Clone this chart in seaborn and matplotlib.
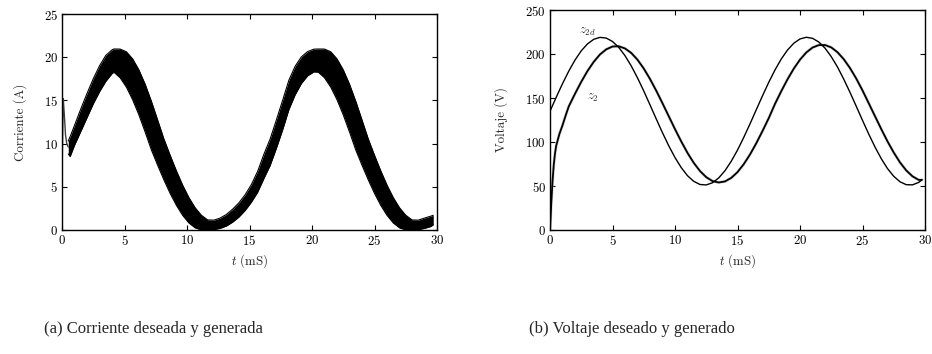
import numpy as np
import pandas as pd
import matplotlib
matplotlib.use("Agg")
import matplotlib.pyplot as plt
import seaborn as sns

# ---- (a) current: ripple band (upper / lower envelope) ----
cur_t = [0.5, 0.65, 1.0, 1.5, 2.0, 2.5, 3.0, 3.5, 4.0,
         4.15, 4.65, 5.15, 5.65, 6.15, 6.65, 7.15, 7.65, 8.15, 8.65, 9.15,
         9.65, 10.15, 10.65, 11.15, 11.65, 12.15, 12.65, 13.15, 13.65, 14.15,
         14.65, 15.15, 15.65, 16.15, 16.65, 17.15, 17.65, 18.15, 18.65, 19.15,
         19.65, 20.15,
         20.5, 21.0, 21.5, 22.0, 22.5, 23.0, 23.5, 24.0, 24.5, 25.0,
         25.5, 26.0, 26.5, 27.0, 27.5, 28.0, 28.5, 29.0, 29.5, 29.7]
cur_upper = [10.3, 10.8, 12.1, 14.0, 15.8, 17.5, 19.0, 20.2, 20.85,
             20.95, 20.94, 20.63, 19.81, 18.54, 16.88, 14.91, 12.74, 10.55, 8.66, 6.86,
             5.20, 3.76, 2.58, 1.71, 1.17, 1.14, 1.38, 1.80, 2.41, 3.14,
             4.08, 5.26, 6.79, 8.76, 10.53, 12.74, 15.01, 17.34, 18.95, 20.04,
             20.65, 20.93,
             20.95, 20.94, 20.63, 19.81, 18.54, 16.88, 14.91, 12.74, 10.55, 8.66,
             6.86, 5.20, 3.76, 2.58, 1.71, 1.17, 1.14, 1.38, 1.60, 1.70]
cur_lower = [8.8, 8.5, 9.8, 11.4, 13.0, 14.6, 16.0, 17.2, 18.1,
             18.27, 17.62, 16.54, 15.08, 13.33, 11.35, 9.27, 7.50, 5.81, 4.24, 2.86,
             1.70, 0.82, 0.25, 0.01, 0.0, 0.04, 0.19, 0.46, 0.91, 1.50,
             2.26, 3.22, 4.37, 5.96, 7.47, 9.46, 11.59, 13.94, 15.65, 16.96,
             17.85, 18.30,
             18.27, 17.62, 16.54, 15.08, 13.33, 11.35, 9.27, 7.50, 5.81, 4.24,
             2.86, 1.70, 0.82, 0.25, 0.01, 0.0, 0.04, 0.19, 0.40, 0.60]
# start-up spike before the band
spike_t = [0.0, 0.02, 0.1, 0.18, 0.28, 0.38, 0.5]
spike_i = [0.0, 8.0, 15.2, 13.5, 11.0, 10.0, 9.6]

# ---- (b) voltage: desired z2d and generated z2 ----
z2d_t = [0.0, 0.5, 1.0, 1.5, 2.0, 2.5, 3.0, 3.5, 4.0, 4.5, 5.0, 5.5, 6.0, 6.5, 7.0,
         7.5, 8.0, 8.5, 9.0, 9.5, 10.0, 10.5, 11.0, 11.5, 12.0, 12.5, 13.0, 13.5,
         14.0, 14.5, 15.0, 15.5, 16.0, 16.5, 17.0, 17.5, 18.0, 18.5, 19.0, 19.5,
         20.0, 20.5, 21.0, 21.5, 22.0, 22.5, 23.0, 23.5, 24.0, 24.5, 25.0, 25.5,
         26.0, 26.5, 27.0, 27.5, 28.0, 28.5, 29.0, 29.5, 29.75]
z2d = [135.0, 150.9, 166.3, 180.5, 193.1, 203.6, 211.5, 216.7, 218.9, 218.1, 214.2,
       207.5, 198.1, 186.4, 172.9, 158.0, 142.2, 126.2, 110.5, 95.7, 82.3, 70.9,
       61.7, 55.3, 51.7, 51.2, 53.7, 59.2, 67.4, 78.1, 90.8, 105.2, 120.6, 136.6,
       152.5, 167.8, 181.9, 194.3, 204.5, 212.2, 217.1, 219.0, 217.8, 213.7, 206.7,
       197.0, 185.2, 171.4, 156.4, 140.6, 124.6, 109.0, 94.3, 81.1, 69.8, 61.0,
       54.8, 51.5, 51.3, 54.1, 57.0]
z2_t = [0.0, 0.1, 0.2, 0.3, 0.4, 0.5, 0.75, 1.0, 1.25,
        1.5, 2.0, 2.5, 3.0, 3.5, 4.0, 4.5, 5.0, 5.5, 6.0, 6.5, 7.0, 7.5, 8.0, 8.5,
        9.0, 9.5, 10.0, 10.5, 11.0, 11.5, 12.0, 12.5, 13.0, 13.5, 14.0, 14.5, 15.0,
        15.5, 16.0, 16.5, 17.0, 17.5, 18.0, 18.5, 19.0, 19.5, 20.0, 20.5, 21.0,
        21.5, 22.0, 22.5, 23.0, 23.5, 24.0, 24.5, 25.0, 25.5, 26.0, 26.5, 27.0,
        27.5, 28.0, 28.5, 29.0, 29.5, 29.75]
z2 = [0.0, 30.0, 55.0, 74.0, 87.0, 96.0, 109.0, 119.0, 130.0,
      140.4, 154.8, 168.4, 180.7, 191.1, 199.5, 205.3, 208.5, 208.8, 206.3, 201.2,
      193.5, 183.5, 171.6, 158.3, 144.0, 129.3, 114.6, 100.6, 87.6, 76.3, 67.0,
      60.0, 55.6, 54.0, 55.2, 59.2, 65.8, 74.8, 85.8, 98.5, 112.5, 127.1,
      143.3, 157.7, 171.2, 183.3, 193.6, 201.7, 207.3, 210.1, 210.2, 207.5, 202.0,
      194.1, 184.0, 172.1, 158.6, 144.0, 129.3, 114.7, 100.7, 88.0, 76.8, 67.7,
      61.0, 56.9, 57.0]

captions = ["(a) Corriente deseada y generada", "(b) Voltaje deseado y generado"]

sns.set_style("ticks")
plt.rcParams.update({
    "font.family": "serif",
    "font.serif": ["cmr10"],
    "mathtext.fontset": "cm",
    "axes.formatter.use_mathtext": True,
    "axes.unicode_minus": False,
    "xtick.direction": "in",
    "ytick.direction": "in",
    "xtick.top": True,
    "ytick.right": True,
    "axes.edgecolor": "black",
    "axes.linewidth": 1.0,
})

W, H = 932, 354
fig = plt.figure(figsize=(W / 100, H / 100), dpi=100)
ax1 = fig.add_axes([62 / W, 1 - 230 / H, 375 / W, 216 / H])
ax2 = fig.add_axes([550 / W, 1 - 230 / H, 375 / W, 220 / H])

band = pd.DataFrame({"t": cur_t, "up": cur_upper, "lo": cur_lower})
ax1.fill_between(band["t"], band["lo"], band["up"], color="black", lw=0)
sns.lineplot(data=band, x="t", y="up", ax=ax1, color="black", lw=0.8,
             estimator=None, sort=False, legend=False)
sns.lineplot(data=band, x="t", y="lo", ax=ax1, color="black", lw=0.8,
             estimator=None, sort=False, legend=False)
sns.lineplot(x=spike_t, y=spike_i, ax=ax1, color="0.25", lw=1.0,
             estimator=None, sort=False, legend=False)

sns.lineplot(x=z2_t, y=z2, ax=ax2, color="0.75", lw=2.2, alpha=0.6,
             estimator=None, sort=False, legend=False)
sns.lineplot(x=z2_t, y=z2, ax=ax2, color="black", lw=1.3,
             estimator=None, sort=False, legend=False)
sns.lineplot(x=z2d_t, y=z2d, ax=ax2, color="black", lw=1.0,
             estimator=None, sort=False, legend=False)
ax2.text(3.0, 225, r"$z_{2d}$", fontsize=9, ha="center", va="center")
ax2.text(3.4, 150, r"$z_2$", fontsize=9, ha="center", va="center")

for ax, ymax, ystep, ylab in [(ax1, 25, 5, "Corriente (A)"), (ax2, 250, 50, "Voltaje (V)")]:
    ax.set_xlim(0, 30)
    ax.set_ylim(0, ymax)
    ax.set_xticks(range(0, 31, 5))
    ax.set_yticks(range(0, ymax + 1, ystep))
    ax.tick_params(axis="both", which="both", length=3.5, width=0.8,
                   labelsize=9.3, pad=3, colors="black")
    ax.set_xlabel(r"$t$ (mS)", fontsize=9.3, labelpad=3)
    ax.set_ylabel(ylab, fontsize=9.3, labelpad=12)
    for s in ax.spines.values():
        s.set_visible(True)

fig.text(153 / W, 1 - 329 / H, captions[0], ha="center", va="center",
         fontsize=12, family=["Liberation Serif", "DejaVu Serif"])
fig.text(632 / W, 1 - 329 / H, captions[1], ha="center", va="center",
         fontsize=12, family=["Liberation Serif", "DejaVu Serif"])

fig.savefig("out.png", dpi=100)
